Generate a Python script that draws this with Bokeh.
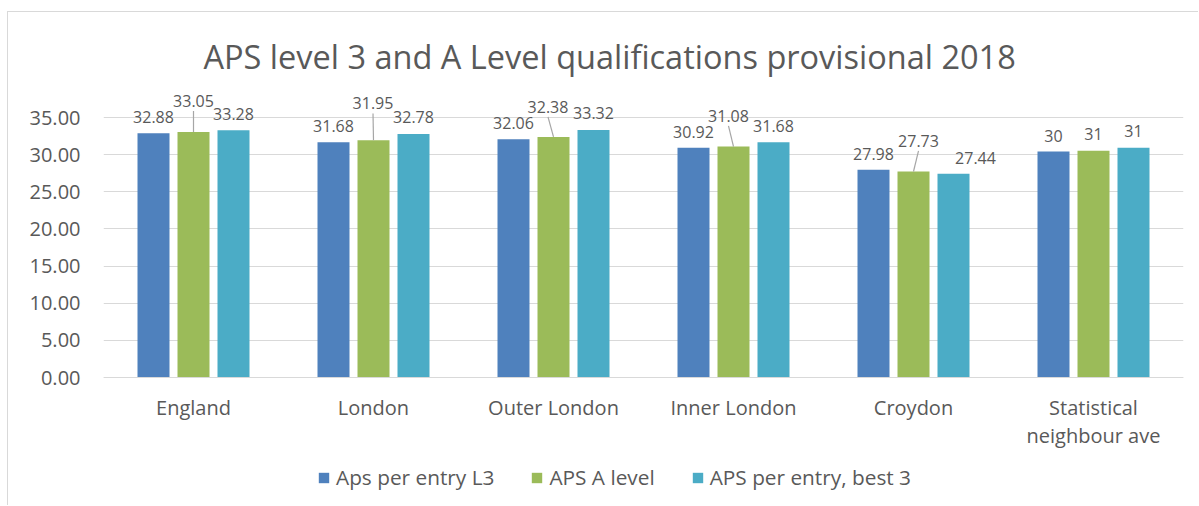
from bokeh.plotting import figure
from bokeh.models import (ColumnDataSource, FixedTicker, PrintfTickFormatter,
                          Legend, LegendItem, Range1d)
from bokeh.core.properties import value
from bokeh.embed import file_html
from bokeh.resources import INLINE

# ---------------- data ----------------
categories = ["England", "London", "Outer London", "Inner London", "Croydon",
              "Statistical\nneighbour ave"]
series_names = ["Aps per entry L3", "APS A level", "APS per entry, best 3"]
aps_l3 = [32.88, 31.68, 32.06, 30.92, 27.98, 30.41]
aps_a_level = [33.05, 31.95, 32.38, 31.08, 27.73, 30.52]
aps_best3 = [33.28, 32.78, 33.32, 31.68, 27.44, 30.92]
labels_l3 = ["32.88", "31.68", "32.06", "30.92", "27.98", "30"]
labels_a_level = ["33.05", "31.95", "32.38", "31.08", "27.73", "31"]
labels_best3 = ["33.28", "32.78", "33.32", "31.68", "27.44", "31"]
y_ticks = [0, 5, 10, 15, 20, 25, 30, 35]

# ---------------- style ----------------
colors = ["#4F81BD", "#9BBB59", "#4BACC6"]
TEXT = "#595959"
GRID = "#d9d9d9"
FONT = "Open Sans"
FRAME_W = 1080
PLOT_H = 297                    # pixels from value 0 to top of frame
BELOW_H = 124                   # pixels of frame below value 0 (axis labels + legend)
PX = 260 / 35.0                 # pixels per value unit
CAT_PX = FRAME_W / len(categories)
bar_offsets_px = [-40, 0, 40]
bar_width_px = 32
# label placement tweaks (pixels): rise above bar top, horizontal shift, leader line
label_rise = [[16, 16, 16, 16, 16, 16],
              [31, 36.7, 30, 30.8, 30.7, 16.7],
              [16.5, 16.5, 16.5, 16.4, 15.6, 16.5]]
label_dx = [[0, 0, 0, 0, 0, 0],
            [0, -0.5, -5.5, -5, 5, 0],
            [0, 0, 0, 0, 22, 0]]
leader = [[0] * 6, [1, 1, 1, 1, 1, 0], [0] * 6]

p = figure(width=1191, height=494, output_backend="svg", toolbar_location=None,
           x_range=Range1d(0, len(categories)),
           y_range=Range1d(-BELOW_H / PX, PLOT_H / PX),
           frame_width=FRAME_W, frame_height=PLOT_H + BELOW_H,
           min_border_left=95, min_border_right=16, min_border_top=68,
           min_border_bottom=494 - 68 - PLOT_H - BELOW_H)
p.margin = (12, 0, 0, 8)
p.styles = {"box-shadow": "-1px -1px 0 0 #d9d9d9"}
p.outline_line_color = None
p.background_fill_color = "white"
p.border_fill_color = "white"

p.title.text = "APS level 3 and A Level qualifications provisional 2018"
p.title.align = "left"
p.title.offset = 100
p.title.standoff = 4
p.title.text_font = FONT
p.title.text_font_size = "32.5px"
p.title.text_font_style = "normal"
p.title.text_color = TEXT

all_vals = [aps_l3, aps_a_level, aps_best3]
all_labels = [labels_l3, labels_a_level, labels_best3]
items = []
for s in range(3):
    xs = [i + 0.5 + bar_offsets_px[s] / CAT_PX for i in range(len(categories))]
    src = ColumnDataSource(dict(x=xs, top=all_vals[s]))
    r = p.vbar(x="x", top="top", bottom=0, width=bar_width_px / CAT_PX, source=src,
               fill_color=colors[s], line_color=None)
    items.append(LegendItem(label=series_names[s], renderers=[r]))
    lx = [xs[i] + label_dx[s][i] / CAT_PX for i in range(len(xs))]
    ly = [all_vals[s][i] + label_rise[s][i] / PX for i in range(len(xs))]
    lsrc = ColumnDataSource(dict(x=lx, y=ly, t=all_labels[s]))
    p.text(x="x", y="y", text="t", source=lsrc, text_align="center",
           text_baseline="alphabetic", text_font=value(FONT),
           text_font_size="16px", text_color=TEXT)
    idx = [i for i in range(len(xs)) if leader[s][i]]
    if idx:
        seg = ColumnDataSource(dict(
            x0=[lx[i] for i in idx], y0=[ly[i] - 10 / PX for i in idx],
            x1=[xs[i] for i in idx], y1=[all_vals[s][i] for i in idx]))
        p.segment(x0="x0", y0="y0", x1="x1", y1="y1", source=seg,
                  line_color="#a6a6a6", line_width=1.2)

# axes
p.xgrid.visible = False
p.ygrid.ticker = FixedTicker(ticks=y_ticks)
p.ygrid.grid_line_color = GRID
p.ygrid.grid_line_width = 1

p.yaxis.ticker = FixedTicker(ticks=y_ticks)
p.yaxis.formatter = PrintfTickFormatter(format="%.2f")
p.yaxis.axis_line_color = None
p.yaxis.major_tick_line_color = None
p.yaxis.minor_tick_line_color = None
p.yaxis.major_tick_out = 0
p.yaxis.major_tick_in = 0
p.yaxis.minor_tick_out = 0
p.yaxis.major_label_standoff = 23
p.yaxis.major_label_text_font = FONT
p.yaxis.major_label_text_font_size = "20px"
p.yaxis.major_label_text_color = TEXT

xt = [i + 0.5 for i in range(len(categories))]
p.xaxis.fixed_location = 0
p.xaxis.ticker = FixedTicker(ticks=xt)
p.xaxis.major_label_overrides = {xt[i]: categories[i] for i in range(len(categories))}
p.xaxis.axis_line_color = GRID
p.xaxis.major_tick_line_color = None
p.xaxis.minor_tick_line_color = None
p.xaxis.major_tick_out = 0
p.xaxis.major_tick_in = 0
p.xaxis.minor_tick_out = 0
p.xaxis.major_label_standoff = 16
p.xaxis.major_label_text_font = FONT
p.xaxis.major_label_text_font_size = "20px"
p.xaxis.major_label_text_color = TEXT
p.xaxis.major_label_text_line_height = 1.05

legend = Legend(items=items, orientation="horizontal", location=(214, 10),
                glyph_width=13, glyph_height=13, label_standoff=6, spacing=36,
                padding=0, margin=0, border_line_color=None,
                background_fill_alpha=0, label_text_font=FONT,
                label_text_font_size="20.8px", label_text_color=TEXT)
p.add_layout(legend, "center")

open("out.html", "w").write(file_html(p, INLINE))
